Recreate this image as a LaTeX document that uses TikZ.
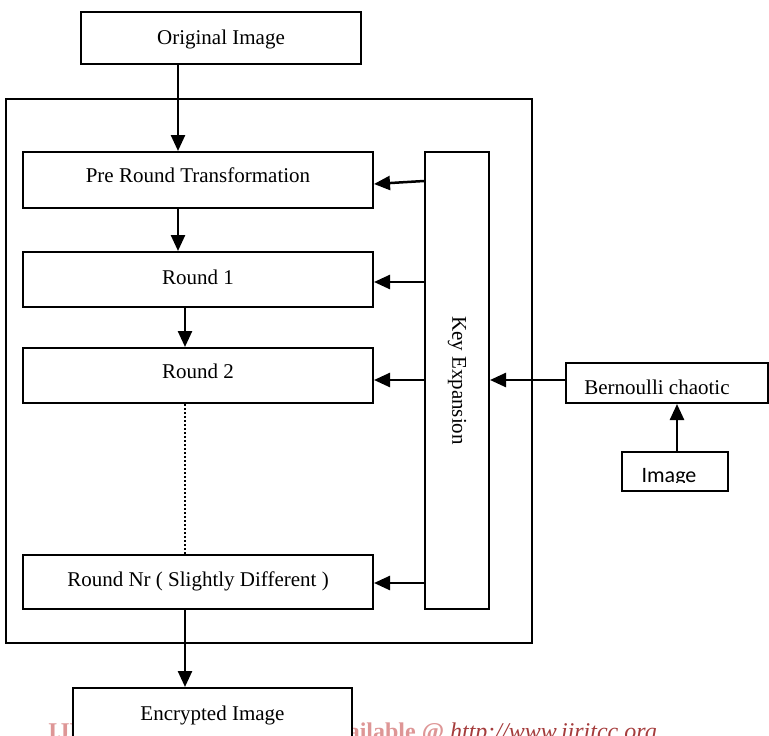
\documentclass[tikz,border=0pt]{standalone}
\usepackage{fontspec}
\usepackage{graphicx}
\setmainfont{Liberation Serif}
\newfontfamily\calib{Carlito}
\usetikzlibrary{arrows.meta}
\definecolor{wmpink}{RGB}{222,150,150}
\definecolor{wmred}{RGB}{165,60,60}
\begin{document}
\begin{tikzpicture}[x=1pt,y=-1pt,
  box/.style={draw, line width=2pt, fill=white, inner sep=0pt, font=\fontsize{21}{25}\selectfont},
  arr/.style={line width=2.5pt, -{Triangle[length=16pt,width=14pt]}},
  dotline/.style={line width=2pt, dash pattern=on 2pt off 2pt},
  wm/.style={inner sep=0pt, font=\fontsize{24}{28}\selectfont}
]
\clip (0,0) rectangle (769,736);
\fill[white] (0,0) rectangle (769,736);

% footer watermark (partly hidden by the last box)
\node[wm, anchor=base west, text=wmpink, font=\fontsize{24}{28}\selectfont\bfseries] (wmleft) at (48,739) {IJRITCC};
\node[wm, anchor=base east] (wmright) at (657,739) {\textcolor{wmpink}{\bfseries Available @} \textcolor{wmred}{\itshape http://www.ijritcc.org}};

% container
\node[draw, line width=1.8pt, minimum width=526pt, minimum height=544pt, inner sep=0pt] (outer) at (269,371) {};

% boxes
\node[box, minimum width=280pt, minimum height=52pt, text height=18pt, text depth=6pt] (orig) at (221,38) {Original Image};
\node[box, minimum width=350pt, minimum height=56pt, text height=14.5pt, text depth=9.5pt] (pre) at (198,180) {Pre Round Transformation};
\node[box, minimum width=350pt, minimum height=55pt, text height=16.5pt, text depth=7.5pt] (r1) at (198,279.5) {Round 1};
\node[box, minimum width=350pt, minimum height=55pt, text height=14.5pt, text depth=9.5pt] (r2) at (198,375.5) {Round 2};
\node[box, minimum width=350pt, minimum height=54pt, text height=16pt, text depth=8pt] (rnr) at (198,582) {Round Nr ( Slightly Different )};
\node[box, minimum width=64pt, minimum height=457pt] (key) at (457,380.5) {\rotatebox{-90}{Key Expansion}};
\node[box, minimum width=202pt, minimum height=40pt, text height=23pt, text depth=1pt] (bern) at (667,383) {\hspace*{-20pt}Bernoulli chaotic};
\node[box, minimum width=106pt, minimum height=39pt] (img) at (675,471.5) {};
\begin{scope}
  \clip (622,452) rectangle (728,482);
  \node[inner sep=0pt, anchor=base, font=\calib\fontsize{22}{26}\selectfont] (imgtext) at (669,482) {Image};
\end{scope}

% connectors
\draw[arr] (orig.south -| 178,0) -- (pre.north -| 178,0);
\draw[arr] (pre.south -| 178,0) -- (r1.north -| 178,0);
\draw[arr] (r1.south -| 185,0) -- (r2.north -| 185,0);
\draw[dotline] (r2.south -| 185,0) -- (rnr.north -| 185,0);

\draw[arr] (key.west |- 0,181) -- (pre.east |- 0,184);
\draw[arr] (key.west |- 0,282) -- (r1.east |- 0,282);
\draw[arr] (key.west |- 0,380) -- (r2.east |- 0,380);
\draw[arr] (key.west |- 0,583) -- (rnr.east |- 0,583);

\draw[arr] (bern.west |- 0,380) -- (key.east |- 0,380);
\draw[arr] (img.north -| 677,0) -- (bern.south -| 677,0);

% last box, drawn over the footer
\node[box, minimum width=279pt, minimum height=56pt, text height=16pt, text depth=8pt] (enc) at (212.5,716) {Encrypted Image};
\draw[arr] (rnr.south -| 185,0) -- (enc.north -| 185,0);
\end{tikzpicture}
\end{document}
